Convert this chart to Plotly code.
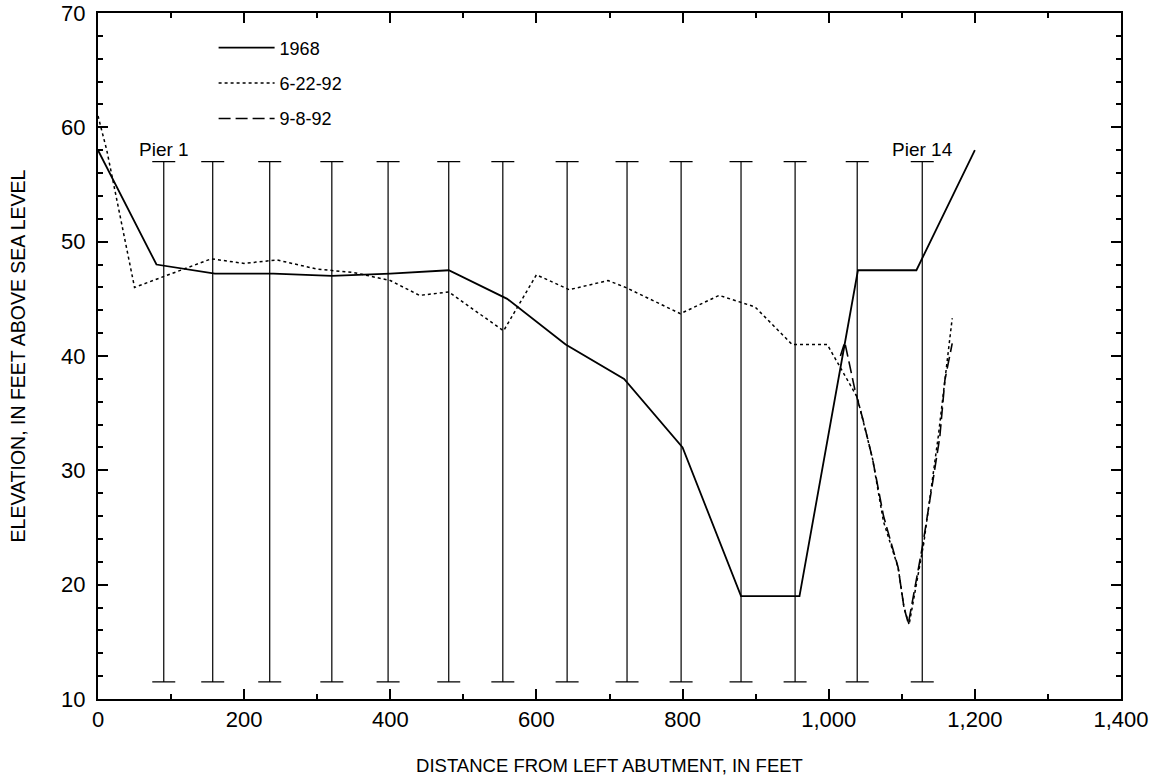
import plotly.graph_objects as go

# ---- data ----
x_1968 = [0, 80, 160, 240, 320, 400, 480, 560, 640, 720, 800, 880, 960, 1040, 1120, 1200]
y_1968 = [58.0, 48.0, 47.2, 47.2, 47.0, 47.2, 47.5, 45.0, 41.0, 38.0, 32.0, 19.0, 19.0, 47.5, 47.5, 58.0]

x_0692 = [0, 12, 50, 155, 200, 245, 300, 350, 400, 440, 480, 555, 600, 645, 698, 722,
          797, 850, 899, 950, 998, 1039, 1060, 1075, 1095, 1103, 1110, 1130, 1150, 1162, 1169]
y_0692 = [61.0, 58.0, 46.0, 48.5, 48.1, 48.4, 47.6, 47.3, 46.6, 45.3, 45.6, 42.2, 47.1, 45.8, 46.6, 46.0,
          43.7, 45.3, 44.3, 41.0, 41.0, 36.4, 31.0, 25.5, 21.5, 18.0, 16.5, 23.6, 33.0, 39.7, 43.3]

x_0992 = [1016, 1022, 1036, 1047, 1060, 1075, 1095, 1103, 1109, 1129, 1152, 1159, 1169]
y_0992 = [40.0, 41.2, 37.0, 34.4, 31.0, 26.0, 21.5, 18.0, 16.6, 23.6, 32.9, 37.9, 41.1]

pier_x = [90, 157, 235, 320, 397, 480, 554, 642, 724, 798, 880, 954, 1039, 1128]
pier_top = 57.0
pier_bottom = 11.5
pier_labels = {0: "Pier 1", 13: "Pier 14"}

FONT = "Liberation Sans, Arial, Helvetica, sans-serif"

fig = go.Figure()

# piers as I-beams via symmetric error bars
mid = (pier_top + pier_bottom) / 2
half = (pier_top - pier_bottom) / 2
fig.add_trace(go.Scatter(
    x=pier_x, y=[mid] * len(pier_x), mode="markers",
    marker=dict(size=1, color="rgba(0,0,0,0)"),
    error_y=dict(type="data", array=[half] * len(pier_x), symmetric=True,
                 color="black", thickness=1.2, width=11.5),
    showlegend=False, hoverinfo="skip"))

fig.add_trace(go.Scatter(x=x_1968, y=y_1968, mode="lines", name="1968",
                         line=dict(color="black", width=1.8), legendgroup="a"))
fig.add_trace(go.Scatter(x=x_0692, y=y_0692, mode="lines", name="6-22-92",
                         line=dict(color="black", width=1.5, dash="3px,3px"), legendgroup="b"))
fig.add_trace(go.Scatter(x=x_0992, y=y_0992, mode="lines", name="9-8-92",
                         line=dict(color="black", width=1.6, dash="12px,5px"), legendgroup="c"))

for i, txt in pier_labels.items():
    fig.add_annotation(x=pier_x[i], y=pier_top, text=txt, showarrow=False,
                       yanchor="bottom", xanchor="center", yshift=0,
                       font=dict(family=FONT, size=19, color="black"))

axis_common = dict(showgrid=False, zeroline=False, showline=True, linecolor="black",
                   linewidth=2, mirror="ticks", ticks="inside", ticklen=10, tickwidth=1.5,
                   tickcolor="black", automargin=False,
                   tickfont=dict(family=FONT, size=22, color="black"))

fig.update_xaxes(range=[0, 1400], dtick=200, tick0=0, tickformat=",",
                 minor=dict(dtick=100, ticks="inside", ticklen=5, tickwidth=1.5, tickcolor="black"),
                 title=dict(text="DISTANCE FROM LEFT ABUTMENT, IN FEET",
                            font=dict(family=FONT, size=18.5, color="black"), standoff=28),
                 **axis_common)
fig.update_yaxes(range=[10, 70], dtick=10, tick0=10,
                 minor=dict(dtick=2, ticks="inside", ticklen=5, tickwidth=1.5, tickcolor="black"),
                 title=dict(text="ELEVATION, IN FEET ABOVE SEA LEVEL",
                            font=dict(family=FONT, size=19.5, color="black"), standoff=30),
                 ticklabelstandoff=6,
                 **axis_common)

fig.update_layout(
    width=1162, height=784,
    margin=dict(l=98, r=41, t=13, b=85),
    plot_bgcolor="white", paper_bgcolor="white",
    font=dict(family=FONT, color="black"),
    legend=dict(x=0.113, y=0.976, xanchor="left", yanchor="top",
                bgcolor="rgba(0,0,0,0)", font=dict(family=FONT, size=18, color="black"),
                itemwidth=56, tracegroupgap=9),
)

fig.write_html("out.html")
